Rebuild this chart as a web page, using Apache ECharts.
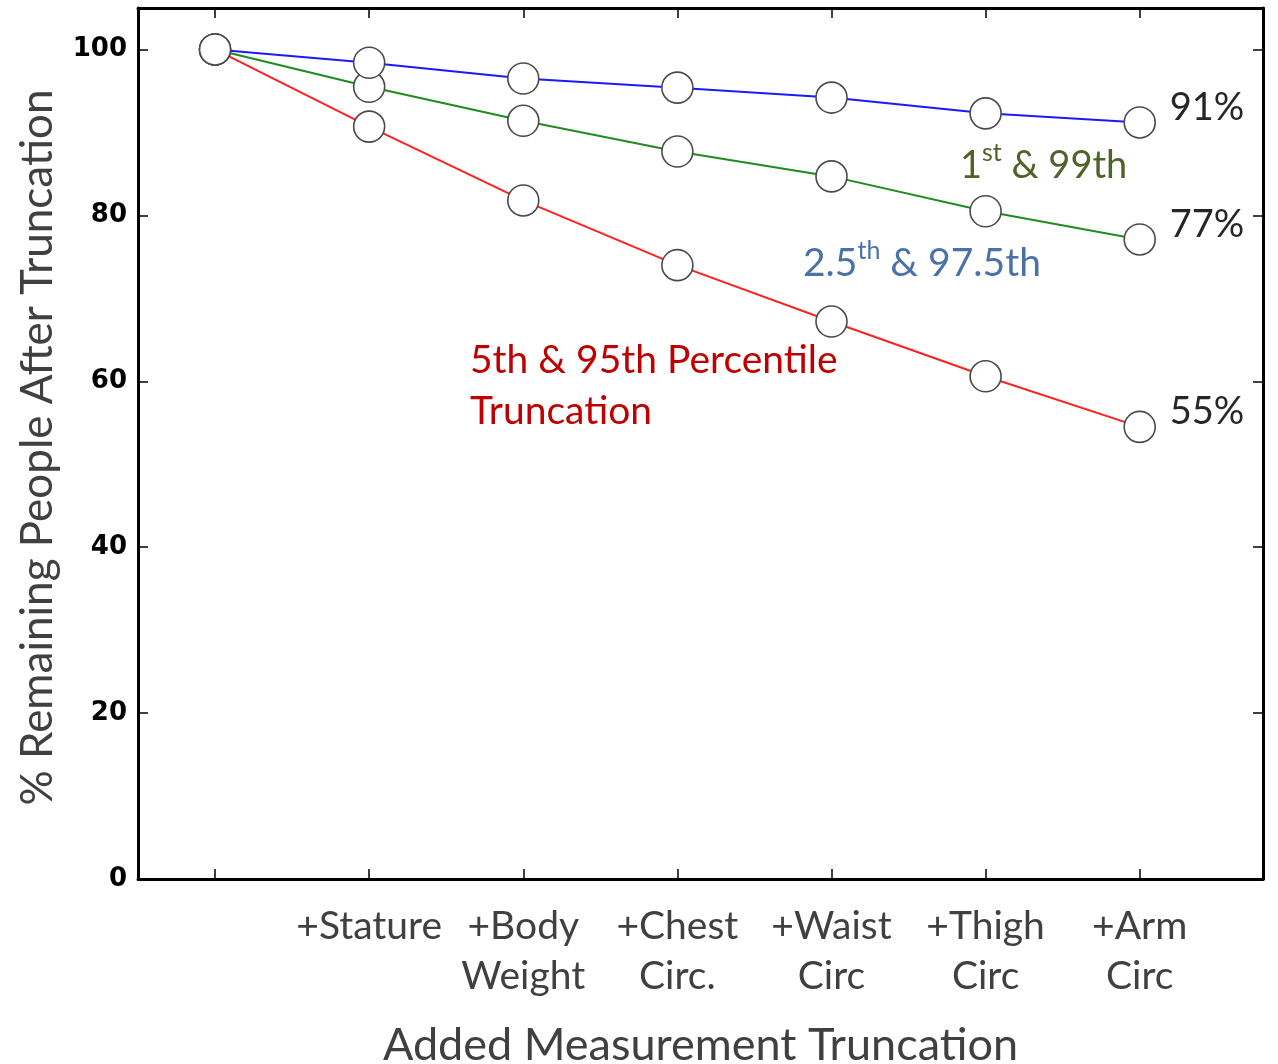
<!DOCTYPE html>
<html>
<head>
<meta charset="utf-8">
<script src="https://cdn.jsdelivr.net/npm/echarts@6/dist/echarts.min.js"></script>
<style>
html,body{margin:0;padding:0;background:#fff;}
#chart{width:1278px;height:1064px;}
</style>
</head>
<body>
<div id="chart"></div>
<script>
const categories = ['', '+Stature', '+Body\nWeight', '+Chest\nCirc.', '+Waist\nCirc', '+Thigh\nCirc', '+Arm\nCirc'];
const blueValues  = [100, 98.4, 96.5, 95.4, 94.2, 92.3, 91.2];
const greenValues = [100, 95.5, 91.4, 87.7, 84.7, 80.5, 77.1];
const redValues   = [100, 90.7, 81.8, 74.0, 67.2, 60.6, 54.5];
const endLabels = {blue: '91%', green: '77%', red: '55%'};
const yTicks = [0, 20, 40, 60, 80, 100];
const xTicks = [0, 1, 2, 3, 4, 5, 6];
const xLabelTicks = [1, 2, 3, 4, 5, 6];

const FONT = 'Lato';
const toPairs = arr => arr.map((v, i) => [i, v]);

function makeSeries(name, values, color, label) {
  return {
    name: name,
    type: 'line',
    xAxisIndex: 0,
    yAxisIndex: 0,
    data: toPairs(values),
    symbol: 'circle',
    symbolSize: 31,
    lineStyle: {color: color, width: 2},
    itemStyle: {color: '#ffffff', borderColor: '#4a4a4a', borderWidth: 1.6},
    emphasis: {disabled: true},
    endLabel: {
      show: true,
      formatter: label,
      fontFamily: FONT,
      fontSize: 38,
      color: '#262626',
      distance: 30,
      offset: [0, -15]
    },
    animation: false
  };
}

const tickStyle = {color: '#000', width: 1.5};
const lineStyle = {color: '#000', width: 3};

const chart = echarts.init(document.getElementById('chart'), null, {renderer: 'canvas'});
chart.setOption({
  backgroundColor: '#ffffff',
  animation: false,
  grid: {left: 138, right: 15, top: 8, bottom: 185, containLabel: false, outerBoundsMode: 'none'},
  xAxis: [
    {
      type: 'value', position: 'bottom', min: -0.5, max: 6.8,
      axisLine: {show: true, onZero: false, lineStyle: lineStyle},
      splitLine: {show: false},
      axisTick: {show: true, inside: true, length: 10, customValues: xTicks, lineStyle: tickStyle},
      axisLabel: {
        show: true, customValues: xLabelTicks,
        formatter: v => categories[Math.round(v)] || '',
        fontFamily: FONT, fontSize: 39, color: '#404040', lineHeight: 50, margin: 22
      },
      name: 'Added Measurement Truncation',
      nameLocation: 'middle', nameGap: 144,
      nameTextStyle: {fontFamily: FONT, fontSize: 45, color: '#404040'}
    },
    {
      type: 'value', position: 'top', min: -0.5, max: 6.8,
      axisLine: {show: true, onZero: false, lineStyle: lineStyle},
      splitLine: {show: false},
      axisTick: {show: true, inside: true, length: 10, customValues: xTicks, lineStyle: tickStyle},
      axisLabel: {show: false}
    }
  ],
  yAxis: [
    {
      type: 'value', min: 0, max: 105, position: 'left',
      axisLine: {show: true, onZero: false, lineStyle: lineStyle},
      axisTick: {show: true, inside: true, length: 10, customValues: yTicks, lineStyle: tickStyle},
      axisLabel: {show: true, customValues: yTicks, fontFamily: 'DejaVu Sans', fontWeight: 'bold', fontSize: 26, color: '#000', margin: 11},
      splitLine: {show: false},
      name: '% Remaining People After Truncation',
      nameLocation: 'middle', nameRotate: 90, nameGap: 78,
      nameTextStyle: {fontFamily: FONT, fontSize: 44, color: '#404040', padding: [0, 8, 0, 0]}
    },
    {
      type: 'value', min: 0, max: 105, position: 'right',
      axisLine: {show: true, onZero: false, lineStyle: lineStyle},
      axisTick: {show: true, inside: true, length: 10, customValues: yTicks, lineStyle: tickStyle},
      axisLabel: {show: false},
      splitLine: {show: false}
    }
  ],
  series: [
    makeSeries('5th & 95th', redValues, '#ff2020', endLabels.red),
    makeSeries('1st & 99th', greenValues, '#1e8c1e', endLabels.green),
    makeSeries('2.5th & 97.5th', blueValues, '#1a1aff', endLabels.blue)
  ],
  graphic: [
    {
      type: 'text', left: 960, top: 139, silent: true,
      style: {
        text: '{n|1}{s|st}{n| & 99th}',
        rich: {
          n: {fontFamily: FONT, fontSize: 38, fill: '#4f6228', lineHeight: 46, verticalAlign: 'bottom'},
          s: {fontFamily: FONT, fontSize: 25, fill: '#4f6228', lineHeight: 46, verticalAlign: 'top', padding: [1, 0, 0, 0]}
        }
      }
    },
    {
      type: 'text', left: 803, top: 237, silent: true,
      style: {
        text: '{n|2.5}{s|th}{n| & 97.5th}',
        rich: {
          n: {fontFamily: FONT, fontSize: 39, fill: '#4a72a6', lineHeight: 46, verticalAlign: 'bottom'},
          s: {fontFamily: FONT, fontSize: 25, fill: '#4a72a6', lineHeight: 46, verticalAlign: 'top', padding: [1, 0, 0, 0]}
        }
      }
    },
    {
      type: 'text', left: 470, top: 335, silent: true,
      style: {
        text: '5th & 95th Percentile\nTruncation',
        fontFamily: FONT, fontSize: 39, lineHeight: 51, fill: '#c00000'
      }
    }
  ]
});
</script>
</body>
</html>
